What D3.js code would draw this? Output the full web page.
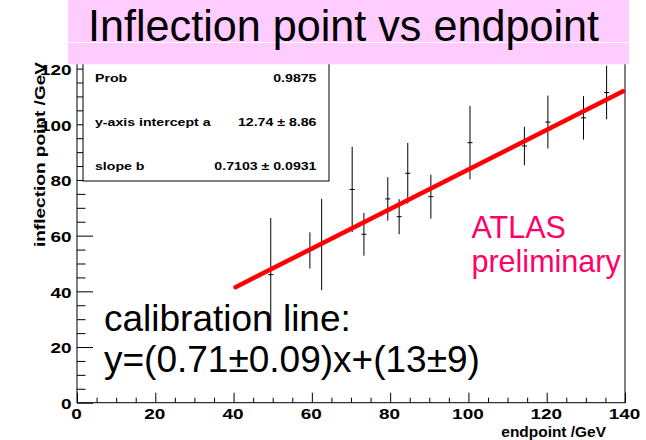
<!DOCTYPE html>
<html><head><meta charset="utf-8">
<script src="https://cdn.jsdelivr.net/npm/d3@7"></script>
<style>body{margin:0;background:#fff}svg{display:block}</style>
</head><body>
<svg id="c" width="646" height="440"></svg>
<script>
// ---- data ----
const endpoint      = [49.5, 59.5, 62.5, 70.3, 73.3, 79.4, 82.3, 84.5, 90.4, 100.4, 114.3, 120.3, 129.4, 135.3];
const inflection    = [46.0, 54.7, 56.8, 76.6, 60.5, 73.2, 66.8, 82.4, 74.0, 93.4, 92.2, 100.8, 102.3, 111.4];
const inflectionErr = [20.3, 6.5, 16.4, 15.3, 7.7, 7.8, 6.3, 10.9, 7.9, 13.2, 6.9, 9.5, 7.8, 9.6];
const xMajorTicks = [0, 20, 40, 60, 80, 100, 120, 140];
const yMajorTicks = [0, 20, 40, 60, 80, 100, 120];
const minorStep = 5;
const fitIntercept = 12.74, fitSlope = 0.7103;
const fitRange = [40.5, 139.5];
const statsLabels = ["Prob", "y-axis intercept a", "slope b"];
const statsValues = ["0.9875", "12.74 \u00b1 8.86", "0.7103 \u00b1 0.0931"];
const titleText = "Inflection point vs endpoint";
const xTitle = "endpoint /GeV", yTitle = "inflection point /GeV";
const noteLines = ["calibration line:", "y=(0.71\u00b10.09)x+(13\u00b19)"];
const atlasLines = ["ATLAS", "preliminary"];

// ---- layout ----
const svg = d3.select("#c");
const X0 = 77, X1 = 625, Y0 = 402.7, Y120 = 68.6;
const x = d3.scaleLinear().domain([0, 140]).range([X0, X1]);
const y = d3.scaleLinear().domain([0, 120]).range([Y0, Y120]);
const FONT = "'Liberation Sans', Arial, Helvetica, sans-serif";
const SX = 1.28; // horizontal stretch of bold labels

// frame
svg.append("rect").attr("x", X0).attr("y", y(123)).attr("width", X1 - X0).attr("height", Y0 - y(123))
  .attr("fill", "#fff").attr("stroke", "#000").attr("stroke-width", 1);

const minorX = d3.range(0, 140.01, minorStep).filter(v => !xMajorTicks.includes(v));
const minorY = d3.range(0, 120.01, minorStep).filter(v => !yMajorTicks.includes(v));

// x axis
const gxMin = svg.append("g").attr("transform", `translate(0,${Y0})`)
  .call(d3.axisBottom(x).tickValues(minorX).tickSizeInner(-5).tickSizeOuter(0).tickFormat(""));
const gx = svg.append("g").attr("transform", `translate(0,${Y0})`)
  .call(d3.axisBottom(x).tickValues(xMajorTicks).tickSizeInner(-10).tickSizeOuter(0).tickPadding(4).tickFormat(d3.format("d")));
// y axis
const gyMin = svg.append("g").attr("transform", `translate(${X0},0)`)
  .call(d3.axisLeft(y).tickValues(minorY).tickSizeInner(-8.5).tickSizeOuter(0).tickFormat(""));
const gy = svg.append("g").attr("transform", `translate(${X0},0)`)
  .call(d3.axisLeft(y).tickValues(yMajorTicks).tickSizeInner(-16).tickSizeOuter(0).tickPadding(0).tickFormat(d3.format("d")));

[gxMin, gx, gyMin, gy].forEach(g => {
  g.select(".domain").remove();
  g.selectAll("line").attr("stroke", "#000").attr("stroke-width", 1);
});
gx.selectAll("text").attr("font-family", FONT).attr("font-weight", "bold").attr("font-size", 14.8)
  .attr("fill", "#000").attr("dy", "0.71em").attr("y", 5.5).attr("x", -0.8)
  .attr("transform", `scale(${SX},1)`);
gy.selectAll("text").attr("font-family", FONT).attr("font-weight", "bold").attr("font-size", 14.8)
  .attr("fill", "#000").attr("x", -5.5 / SX).attr("dy", "0.4em")
  .attr("transform", `scale(${SX},1)`);

// axis titles
const XT = 1.12;
svg.append("text").attr("x", 606 / XT).attr("y", 437).attr("text-anchor", "end")
  .attr("transform", `scale(${XT},1)`)
  .attr("font-family", FONT).attr("font-weight", "bold").attr("font-size", 13.8).text(xTitle);
svg.append("text").attr("transform", `translate(44.5,62) rotate(-90) scale(1.36,1)`)
  .attr("text-anchor", "end")
  .attr("font-family", FONT).attr("font-weight", "bold").attr("font-size", 14).text(yTitle);

// data: error bars
const pts = endpoint.map((e, i) => ({x: e, y: inflection[i], err: inflectionErr[i]}));
const gp = svg.append("g");
gp.selectAll("line.eb").data(pts).join("line").attr("class", "eb")
  .attr("x1", d => x(d.x)).attr("x2", d => x(d.x))
  .attr("y1", d => y(d.y - d.err)).attr("y2", d => y(d.y + d.err))
  .attr("stroke", "#000").attr("stroke-width", 1);
gp.selectAll("line.mk").data(pts).join("line").attr("class", "mk")
  .attr("x1", d => x(d.x) - 2.5).attr("x2", d => x(d.x) + 2.5)
  .attr("y1", d => y(d.y)).attr("y2", d => y(d.y))
  .attr("stroke", "#000").attr("stroke-width", 1);

// fit line
svg.append("line")
  .attr("x1", x(fitRange[0])).attr("y1", y(fitIntercept + fitSlope * fitRange[0]))
  .attr("x2", x(fitRange[1])).attr("y2", y(fitIntercept + fitSlope * fitRange[1]))
  .attr("stroke", "#ff0000").attr("stroke-width", 4.5).attr("stroke-linecap", "round");

// stats box
svg.append("rect").attr("x", 83).attr("y", 40).attr("width", 246).attr("height", 141)
  .attr("fill", "#fff").attr("stroke", "#000").attr("stroke-width", 1);
const statY = [82, 126, 170];
const SS = 1.2;
statsLabels.forEach((t, i) => {
  svg.append("text").attr("x", 95 / SS).attr("y", statY[i]).attr("transform", `scale(${SS},1)`)
    .attr("font-family", FONT).attr("font-weight", "bold").attr("font-size", 11.8).text(t);
  svg.append("text").attr("x", 316.5 / SS).attr("y", statY[i]).attr("transform", `scale(${SS},1)`)
    .attr("text-anchor", "end")
    .attr("font-family", FONT).attr("font-weight", "bold").attr("font-size", 11.8).text(statsValues[i]);
});

// ATLAS preliminary
atlasLines.forEach((t, i) => {
  svg.append("text").attr("x", 471.5).attr("y", [237.5, 271.5][i])
    .attr("font-family", FONT).attr("font-size", 30.5).attr("fill", "#ff0066").text(t);
});

// calibration note
noteLines.forEach((t, i) => {
  svg.append("text").attr("x", 104).attr("y", [331, 372][i])
    .attr("font-family", FONT).attr("font-size", 37).attr("fill", "#000").text(t);
});

// title band
svg.append("rect").attr("x", 68).attr("y", 0).attr("width", 561).attr("height", 64.3).attr("fill", "#ffccff");
svg.append("line").attr("x1", 68).attr("x2", 629).attr("y1", 42.5).attr("y2", 42.5).attr("stroke", "#fff").attr("stroke-width", 1);
svg.append("text").attr("x", 88).attr("y", 41).attr("font-family", FONT).attr("font-size", 45)
  .attr("textLength", 511).attr("lengthAdjust", "spacingAndGlyphs").attr("fill", "#000").text(titleText);
</script>
</body></html>
